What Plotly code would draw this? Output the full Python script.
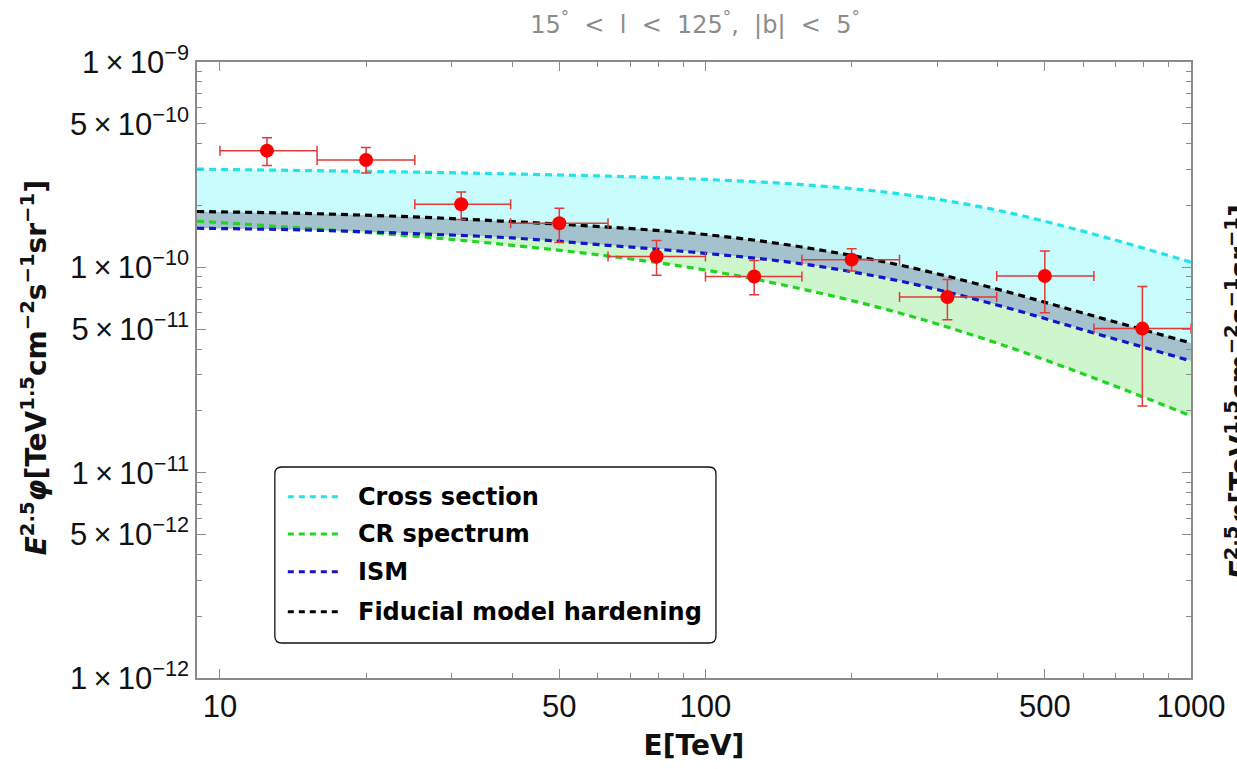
import numpy as np
import plotly.graph_objects as go

# ---------------- data ----------------
# model curves (E in TeV, E^2.5 * flux)
E_model = [8.97, 15, 25, 40, 63, 100, 158, 251, 398, 631, 1000]
cross_section = [3.01e-10, 2.96e-10, 2.91e-10, 2.85e-10, 2.78e-10, 2.68e-10, 2.53e-10, 2.28e-10, 1.90e-10, 1.45e-10, 1.06e-10]
cr_spectrum = [1.68e-10, 1.55e-10, 1.42e-10, 1.28e-10, 1.135e-10, 9.70e-11, 7.84e-11, 5.99e-11, 4.28e-11, 2.89e-11, 1.89e-11]
ism = [1.55e-10, 1.52e-10, 1.46e-10, 1.39e-10, 1.28e-10, 1.17e-10, 1.04e-10, 8.58e-11, 6.56e-11, 4.79e-11, 3.50e-11]
fiducial = [1.87e-10, 1.83e-10, 1.76e-10, 1.67e-10, 1.57e-10, 1.445e-10, 1.256e-10, 1.026e-10, 7.84e-11, 5.79e-11, 4.28e-11]
series_names = ["Cross section", "CR spectrum", "ISM", "Fiducial model hardening"]

# measured points
E_data = [12.5, 20.0, 31.4, 50.0, 79.3, 126, 200, 315, 500, 794]
E_lo = [10.0, 15.85, 25.2, 39.7, 63.0, 100, 158, 251, 398, 631]
E_hi = [15.85, 25.2, 39.7, 63.0, 100, 158, 251, 398, 631, 1000]
flux = [3.70e-10, 3.33e-10, 2.03e-10, 1.64e-10, 1.13e-10, 9.03e-11, 1.09e-10, 7.16e-11, 9.08e-11, 5.03e-11]
flux_hi = [4.28e-10, 3.83e-10, 2.33e-10, 1.94e-10, 1.35e-10, 1.08e-10, 1.23e-10, 8.73e-11, 1.20e-10, 8.07e-11]
flux_lo = [3.13e-10, 2.88e-10, 1.71e-10, 1.32e-10, 9.14e-11, 7.36e-11, 9.60e-11, 5.56e-11, 6.01e-11, 2.11e-11]

x_tickvals = [10, 50, 100, 500, 1000]
x_ticktext = ["10", "50", "100", "500", "1000"]
x_minor = [20, 30, 40, 60, 70, 80, 90, 200, 300, 400, 600, 700, 800, 900]
y_tickvals = [1e-9, 5e-10, 1e-10, 5e-11, 1e-11, 5e-12, 1e-12]
y_ticktext = ["1\u2009×\u200910<sup>−9</sup>", "5\u2009×\u200910<sup>−10</sup>",
              "1\u2009×\u200910<sup>−10</sup>", "5\u2009×\u200910<sup>−11</sup>",
              "1\u2009×\u200910<sup>−11</sup>", "5\u2009×\u200910<sup>−12</sup>",
              "1\u2009×\u200910<sup>−12</sup>"]
y_minor = [m * 10.0 ** d for d in (-12, -11, -10) for m in (2, 3, 4, 6, 7, 8, 9)]

# ---------------- styles ----------------
FONT = "Liberation Sans, Arial, sans-serif"
WIDE = "DejaVu Sans, Verdana, sans-serif"
LINE_COLORS = ["#22e3e8", "#22d422", "#1414c8", "#000000"]
F_CYAN, F_STEEL, F_GREEN = "#c8fcfd", "#a3c2cd", "#cdf6cd"
RED = "#ff0000"
ERR = "#e03a3a"
DASH = "7px,5px"
W, H = 1237, 769
L, R, T, B = 197, 44, 62, 91


def px_x(p):
    return (p - L) / (W - L - R)


def px_y(p):
    return (H - B - p) / (H - T - B)


fig = go.Figure()
SMOOTH = 1.0


def band(lower, upper, color):
    fig.add_trace(go.Scatter(x=E_model, y=lower, mode="lines",
                             line=dict(width=0, shape="spline", smoothing=SMOOTH),
                             showlegend=False, hoverinfo="skip"))
    fig.add_trace(go.Scatter(x=E_model, y=upper, mode="lines",
                             line=dict(width=0, shape="spline", smoothing=SMOOTH),
                             fill="tonexty", fillcolor=color, showlegend=False, hoverinfo="skip"))


band(fiducial, cross_section, F_CYAN)
band(ism, fiducial, F_STEEL)
band(list(np.minimum(cr_spectrum, ism)), ism, F_GREEN)

curves = [cross_section, cr_spectrum, ism, fiducial]
for name, ys, col in zip(series_names, curves, LINE_COLORS):
    fig.add_trace(go.Scatter(x=E_model, y=ys, mode="lines", name=name, showlegend=False,
                             line=dict(color=col, width=3.2, dash=DASH, shape="spline",
                                       smoothing=SMOOTH)))

fa = np.array(flux)
ea = np.array(E_data)
fig.add_trace(go.Scatter(
    x=E_data, y=flux, mode="markers", showlegend=False, name="data",
    marker=dict(color=RED, size=14),
    error_y=dict(type="data", symmetric=False, array=np.array(flux_hi) - fa,
                 arrayminus=fa - np.array(flux_lo), color=ERR, thickness=1.5, width=5),
    error_x=dict(type="data", symmetric=False, array=np.array(E_hi) - ea,
                 arrayminus=ea - np.array(E_lo), color=ERR, thickness=1.5, width=5),
))

axis_common = dict(type="log", showgrid=False, zeroline=False, showline=True,
                   linecolor="#8a8a8a", linewidth=1.5, mirror="ticks", ticks="inside",
                   tickcolor="#8a8a8a", tickwidth=1.2, ticklen=9,
                   tickfont=dict(family=FONT, size=31, color="#111"))

fig.update_xaxes(**axis_common, range=[np.log10(8.97), 3], tickmode="array",
                 tickvals=x_tickvals, ticktext=x_ticktext,
                 minor=dict(tickmode="array", tickvals=x_minor, ticks="inside", ticklen=5,
                            tickcolor="#8a8a8a", tickwidth=1.2),
                 title=dict(text="<b>E[TeV]</b>", font=dict(family=WIDE, size=28, color="#111"),
                            standoff=12))
fig.update_yaxes(**axis_common, range=[-12, -9], tickmode="array",
                 tickvals=y_tickvals, ticktext=y_ticktext,
                 minor=dict(tickmode="array", tickvals=y_minor, ticks="inside", ticklen=5,
                            tickcolor="#8a8a8a", tickwidth=1.2))

ylab = "<b><i>E</i><sup>2.5</sup><i>φ</i>[TeV<sup>1.5</sup>cm<sup>−2</sup>s<sup>−1</sup>sr<sup>−1</sup>]</b>"
fig.add_annotation(text=ylab, xref="paper", yref="paper", x=px_x(34), y=px_y(368), textangle=-90,
                   showarrow=False, font=dict(family=WIDE, size=28, color="#111"),
                   xanchor="center", yanchor="middle")
# neighbouring panel's axis label, cut off at the right edge
fig.add_annotation(text=ylab, xref="paper", yref="paper", x=px_x(1220), y=px_y(392), textangle=-90,
                   showarrow=False, font=dict(family=WIDE, size=28, color="#111"),
                   xanchor="left", yanchor="middle")

# ---------------- legend (rounded box) ----------------
bx0, bx1, by1, by0 = px_x(275), px_x(717), px_y(467), px_y(643)
rx, ry = 7 / (W - L - R), 7 / (H - T - B)
path = (f"M {bx0+rx},{by1} L {bx1-rx},{by1} Q {bx1},{by1} {bx1},{by1-ry} "
        f"L {bx1},{by0+ry} Q {bx1},{by0} {bx1-rx},{by0} L {bx0+rx},{by0} "
        f"Q {bx0},{by0} {bx0},{by0+ry} L {bx0},{by1-ry} Q {bx0},{by1} {bx0+rx},{by1} Z")
fig.add_shape(type="path", path=path, xref="paper", yref="paper",
              line=dict(color="#111", width=1.3), fillcolor="white")
row_px = [496.7, 534, 571.7, 611.7]
for name, col, rp in zip(series_names, LINE_COLORS, row_px):
    fig.add_shape(type="line", xref="paper", yref="paper", x0=px_x(288), x1=px_x(343),
                  y0=px_y(rp), y1=px_y(rp), line=dict(color=col, width=3, dash="6px,5px"))
    fig.add_annotation(text=f"<b>{name}</b>", xref="paper", yref="paper", x=px_x(356), y=px_y(rp),
                       xanchor="left", yanchor="middle", showarrow=False,
                       font=dict(family=WIDE, size=24, color="#000"))

sp = "\u00a0\u00a0"
title_txt = (f"15<sup>°</sup>{sp}<{sp}l{sp}<{sp}125<sup>°</sup>,{sp}|b|{sp}<{sp}5<sup>°</sup>")
fig.update_layout(
    width=W, height=H,
    margin=dict(l=L, r=R, t=T, b=B),
    paper_bgcolor="white", plot_bgcolor="white",
    title=dict(text=title_txt, x=(L + W - R) / 2 / W, xanchor="center",
               y=(H - 25) / H, yanchor="middle",
               font=dict(family=WIDE, size=24, color="#8c8c8c")),
    showlegend=False,
)

fig.write_html("out.html")
